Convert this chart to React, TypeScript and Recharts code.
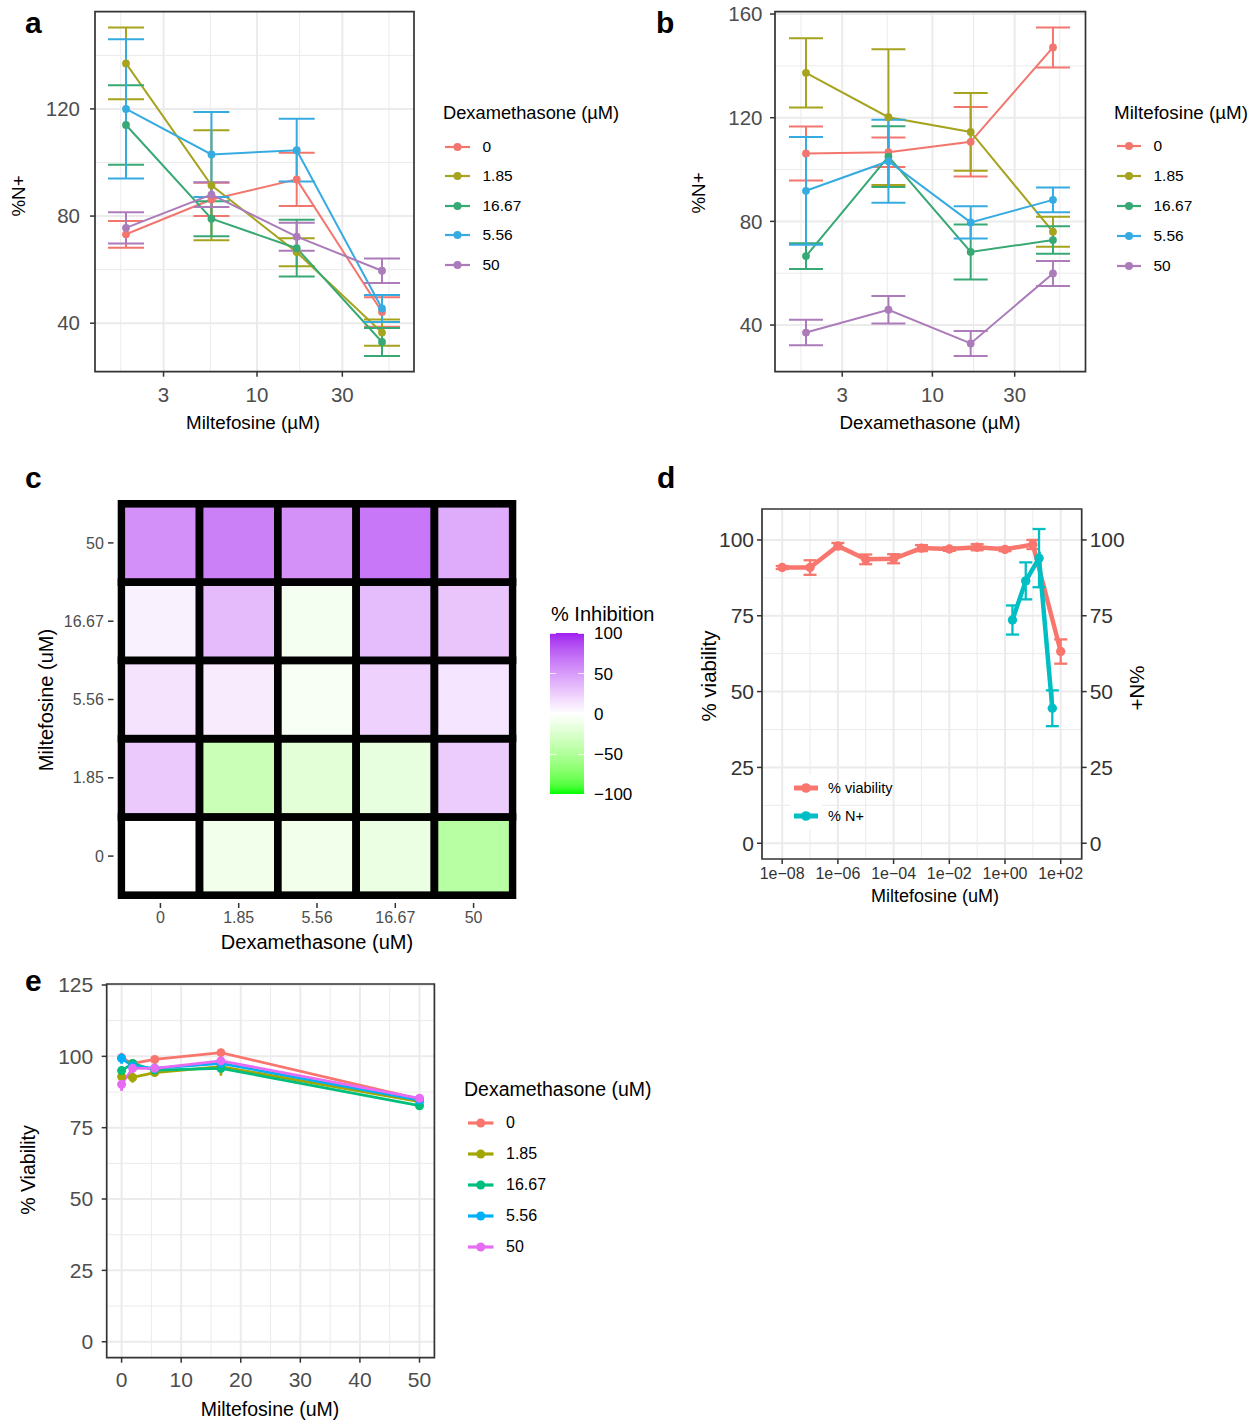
import React from 'react';
import {
  ComposedChart,
  ScatterChart,
  Scatter,
  Line,
  XAxis,
  YAxis,
  CartesianGrid,
  ErrorBar,
  ReferenceArea,
} from 'recharts';

const FONT = '"Liberation Sans", Arial, Helvetica, sans-serif';
const GRID = '#EBEBEB';
const FRAME = '#333333';
const AXIS_TEXT = '#4D4D4D';

// ---- shared levels ----
const doseLevels = [1.85, 5.56, 16.67, 50];
const legendLevels = ['0', '1.85', '16.67', '5.56', '50'];
const abColors = ['#F2766E', '#A6A31F', '#38A974', '#36ABE1', '#AB7BBA'];
const eColors = ['#F8766D', '#A3A500', '#00BF7D', '#00B0F6', '#E76BF3'];

// ---- panel a: %N+ vs miltefosine, by dexamethasone ----
const aDex0 = [73.2, 86.2, 93.7, 44.2];
const aDex0Sd = [5.0, 6.2, 9.9, 5.5];
const aDex1_85 = [137.0, 91.5, 66.5, 36.5];
const aDex1_85Sd = [13.4, 20.5, 5.2, 4.9];
const aDex16_67 = [114.0, 79.0, 68.0, 33.0];
const aDex16_67Sd = [14.8, 6.5, 10.6, 5.2];
const aDex5_56 = [120.0, 103.0, 104.6, 45.5];
const aDex5_56Sd = [26.0, 15.9, 11.7, 5.0];
const aDex50 = [75.6, 88.0, 72.3, 59.6];
const aDex50Sd = [5.8, 4.6, 5.2, 4.6];

// ---- panel b: %N+ vs dexamethasone, by miltefosine ----
const bMilt0 = [106.2, 106.7, 110.7, 147.1];
const bMilt0Sd = [10.4, 5.7, 13.4, 7.7];
const bMilt1_85 = [137.3, 120.2, 114.5, 76.0];
const bMilt1_85Sd = [13.4, 26.2, 15.0, 5.8];
const bMilt16_67 = [66.6, 105.0, 68.2, 72.8];
const bMilt16_67Sd = [5.0, 11.7, 10.6, 5.3];
const bMilt5_56 = [91.8, 103.2, 79.6, 88.3];
const bMilt5_56Sd = [20.8, 16.0, 6.2, 4.8];
const bMilt50 = [37.1, 45.9, 32.9, 59.9];
const bMilt50Sd = [4.9, 5.3, 4.8, 4.8];

// ---- panel c: % inhibition heatmap (rows = miltefosine, cols = dexamethasone) ----
const heatDexLabels = ['0', '1.85', '5.56', '16.67', '50'];
const heatMiltLabels = ['0', '1.85', '5.56', '16.67', '50'];
const inhibMilt0 = [0, -10, -10, -14, -46];
const inhibMilt1_85 = [27, -36, -20, -16, 26];
const inhibMilt5_56 = [14, 10, -5, 23, 13];
const inhibMilt16_67 = [7, 34, -7, 33, 29];
const inhibMilt50 = [55, 63, 54, 67, 42];
const colorbarTicks = [100, 50, 0, -50, -100];
const colorbarLabels = ['100', '50', '0', '\u221250', '\u2212100'];

// ---- panel d: viability and %N+ vs miltefosine ----
const dConc = [1e-8, 1e-7, 1e-6, 1e-5, 1e-4, 1e-3, 1e-2, 1e-1, 1, 10, 100];
const viability = [90.9, 90.9, 98.0, 93.6, 93.8, 97.3, 97.0, 97.6, 96.9, 98.5, 63.2];
const viabilitySd = [0.5, 2.4, 1.0, 1.6, 1.5, 1.0, 0.6, 1.0, 0.6, 1.5, 4.0];
const nConc = [1.85, 5.56, 16.67, 50];
const nPositive = [73.6, 86.5, 94.0, 44.5];
const nPositiveSd = [4.8, 6.1, 9.6, 5.9];
const dTicks = [1e-8, 1e-6, 1e-4, 1e-2, 1, 100];
const dTickLabels = ['1e\u221208', '1e\u221206', '1e\u221204', '1e\u221202', '1e+00', '1e+02'];
const dMinor = [1e-7, 1e-5, 1e-3, 1e-1, 10];

// ---- panel e: % viability vs miltefosine, by dexamethasone ----
const eMilt = [0, 1.85, 5.56, 16.67, 50];
const eDex0 = [99.5, 97.5, 98.9, 101.3, 85.0];
const eDex0Sd = [1.2, 0.8, 1.0, 1.2, 0.8];
const eDex1_85 = [92.9, 92.6, 94.3, 96.4, 84.1];
const eDex1_85Sd = [1.2, 1.8, 1.2, 3.2, 0.8];
const eDex16_67 = [95.0, 97.5, 95.2, 95.8, 82.7];
const eDex16_67Sd = [1.5, 1.0, 1.5, 1.5, 0.8];
const eDex5_56 = [99.3, 96.6, 95.8, 97.5, 84.7];
const eDex5_56Sd = [1.9, 1.0, 1.0, 1.0, 0.8];
const eDex50 = [90.2, 95.8, 95.8, 98.4, 85.3];
const eDex50Sd = [2.3, 1.5, 1.0, 1.0, 0.8];

type Pt = { x: number; y: number; sd: number };
interface Series { name: string; color: string; points: Pt[] }

const toPoints = (xs: number[], ys: number[], sd: number[]): Pt[] =>
  xs.map((x, i) => ({ x, y: ys[i], sd: sd[i] }));

const aSeries: Series[] = [
  { name: '0', color: abColors[0], points: toPoints(doseLevels, aDex0, aDex0Sd) },
  { name: '1.85', color: abColors[1], points: toPoints(doseLevels, aDex1_85, aDex1_85Sd) },
  { name: '16.67', color: abColors[2], points: toPoints(doseLevels, aDex16_67, aDex16_67Sd) },
  { name: '5.56', color: abColors[3], points: toPoints(doseLevels, aDex5_56, aDex5_56Sd) },
  { name: '50', color: abColors[4], points: toPoints(doseLevels, aDex50, aDex50Sd) },
];

const bSeries: Series[] = [
  { name: '0', color: abColors[0], points: toPoints(doseLevels, bMilt0, bMilt0Sd) },
  { name: '1.85', color: abColors[1], points: toPoints(doseLevels, bMilt1_85, bMilt1_85Sd) },
  { name: '16.67', color: abColors[2], points: toPoints(doseLevels, bMilt16_67, bMilt16_67Sd) },
  { name: '5.56', color: abColors[3], points: toPoints(doseLevels, bMilt5_56, bMilt5_56Sd) },
  { name: '50', color: abColors[4], points: toPoints(doseLevels, bMilt50, bMilt50Sd) },
];

const eSeries: Series[] = [
  { name: '0', color: eColors[0], points: toPoints(eMilt, eDex0, eDex0Sd) },
  { name: '1.85', color: eColors[1], points: toPoints(eMilt, eDex1_85, eDex1_85Sd) },
  { name: '16.67', color: eColors[2], points: toPoints(eMilt, eDex16_67, eDex16_67Sd) },
  { name: '5.56', color: eColors[3], points: toPoints(eMilt, eDex5_56, eDex5_56Sd) },
  { name: '50', color: eColors[4], points: toPoints(eMilt, eDex50, eDex50Sd) },
];

const heatRows = [inhibMilt0, inhibMilt1_85, inhibMilt5_56, inhibMilt16_67, inhibMilt50];
const heatCells = heatRows.flatMap((row, r) => row.map((v, c) => ({ x: c, y: r, v })));

// ---- colour scale (green - white - purple, interpolated in Lab like ggplot) ----
const toLin = (c: number) => {
  const v = c / 255;
  return v <= 0.04045 ? v / 12.92 : Math.pow((v + 0.055) / 1.055, 2.4);
};
const fromLin = (c: number) => {
  const v = c <= 0.0031308 ? 12.92 * c : 1.055 * Math.pow(c, 1 / 2.4) - 0.055;
  return Math.round(Math.min(1, Math.max(0, v)) * 255);
};
function hexToLab(hex: string): number[] {
  const r = toLin(parseInt(hex.slice(1, 3), 16));
  const g = toLin(parseInt(hex.slice(3, 5), 16));
  const b = toLin(parseInt(hex.slice(5, 7), 16));
  const X = (0.4124 * r + 0.3576 * g + 0.1805 * b) / 0.95047;
  const Y = 0.2126 * r + 0.7152 * g + 0.0722 * b;
  const Z = (0.0193 * r + 0.1192 * g + 0.9505 * b) / 1.08883;
  const f = (t: number) => (t > 0.008856 ? Math.cbrt(t) : 7.787 * t + 16 / 116);
  return [116 * f(Y) - 16, 500 * (f(X) - f(Y)), 200 * (f(Y) - f(Z))];
}
function labToHex(lab: number[]): string {
  const fy = (lab[0] + 16) / 116;
  const fx = fy + lab[1] / 500;
  const fz = fy - lab[2] / 200;
  const inv = (t: number) => (t * t * t > 0.008856 ? t * t * t : (t - 16 / 116) / 7.787);
  const X = inv(fx) * 0.95047;
  const Y = inv(fy);
  const Z = inv(fz) * 1.08883;
  const r = 3.2406 * X - 1.5372 * Y - 0.4986 * Z;
  const g = -0.9689 * X + 1.8758 * Y + 0.0415 * Z;
  const b = 0.0557 * X - 0.204 * Y + 1.057 * Z;
  return '#' + [r, g, b].map((c) => fromLin(c).toString(16).padStart(2, '0')).join('');
}
const LAB_LOW = hexToLab('#00FF00');
const LAB_MID = hexToLab('#FFFFFF');
const LAB_HIGH = hexToLab('#A020F0');
function inhibitionColor(v: number): string {
  const t = Math.max(-1, Math.min(1, v / 100));
  const end = t < 0 ? LAB_LOW : LAB_HIGH;
  const k = Math.abs(t);
  return labToHex(LAB_MID.map((m, i) => m + (end[i] - m) * k));
}

// ---- small helpers ----
function Caption({ x, y, children, size, color = '#000', weight = 400, rotate = 0, align = 'center' }: any) {
  const tx = align === 'center' ? '-50%' : align === 'left' ? '0' : '-100%';
  return (
    <div
      style={{
        position: 'absolute',
        left: x,
        top: y,
        transform: `translate(${tx}, -50%) rotate(${rotate}deg)`,
        fontSize: size,
        fontWeight: weight,
        color,
        lineHeight: 1,
        whiteSpace: 'nowrap',
        fontFamily: FONT,
      }}
    >
      {children}
    </div>
  );
}

function KeyLegend({ title, titleX, titleY, rowY, rowGap, keyX, keyW, labelX, lineW, dotR, titleSize, labelSize, items }: any) {
  return (
    <>
      <Caption x={titleX} y={titleY} size={titleSize} align="left">{title}</Caption>
      {items.map((it: { name: string; color: string }, i: number) => {
        const y = rowY + i * rowGap;
        return (
          <React.Fragment key={it.name}>
            <svg style={{ position: 'absolute', left: keyX, top: y - 10 }} width={keyW} height={20}>
              <line x1={0} x2={keyW} y1={10} y2={10} stroke={it.color} strokeWidth={lineW} />
              <circle cx={keyW / 2} cy={10} r={dotR} fill={it.color} />
            </svg>
            <Caption x={labelX} y={y} size={labelSize} align="left">{it.name}</Caption>
          </React.Fragment>
        );
      })}
    </>
  );
}

interface LinePanelProps {
  left: number; top: number; width: number; height: number;
  margin: { top: number; right: number; bottom: number; left: number };
  yWidth: number; xHeight: number; logX: boolean;
  xDomain: [number, number]; xTicks: number[]; xMinor: number[];
  yDomain: [number, number]; yTicks: number[]; yMinor: number[];
  series: Series[];
  lineWidth: number; dotR: number; capHalf: number; barWidth: number;
  tickFont: number; xTickMargin: number; yTickMargin: number;
}

function LinePanel(p: LinePanelProps) {
  const tick = { fill: AXIS_TEXT, fontSize: p.tickFont, fontFamily: FONT };
  return (
    <div style={{ position: 'absolute', left: p.left, top: p.top }}>
      <ComposedChart width={p.width} height={p.height} margin={p.margin}>
        <CartesianGrid stroke={GRID} strokeWidth={1} horizontalValues={p.yMinor} verticalValues={p.xMinor} />
        <CartesianGrid stroke={GRID} strokeWidth={2} horizontalValues={p.yTicks} verticalValues={p.xTicks} />
        <XAxis
          type="number"
          dataKey="x"
          scale={p.logX ? 'log' : 'linear'}
          domain={p.xDomain}
          allowDataOverflow
          ticks={p.xTicks}
          interval={0}
          height={p.xHeight}
          tickSize={5}
          tickMargin={p.xTickMargin}
          tick={tick}
          tickLine={{ stroke: FRAME, strokeWidth: 1.5 }}
          axisLine={false}
        />
        <YAxis
          type="number"
          domain={p.yDomain}
          allowDataOverflow
          ticks={p.yTicks}
          interval={0}
          width={p.yWidth}
          tickSize={5}
          tickMargin={p.yTickMargin}
          tick={tick}
          tickLine={{ stroke: FRAME, strokeWidth: 1.5 }}
          axisLine={false}
        />
        <ReferenceArea
          x1={p.xDomain[0]} x2={p.xDomain[1]} y1={p.yDomain[0]} y2={p.yDomain[1]}
          fill="none" stroke={FRAME} strokeWidth={1.7} ifOverflow="visible"
        />
        {p.series.map((s) => (
          <Line
            key={s.name}
            data={s.points}
            dataKey="y"
            type="linear"
            stroke={s.color}
            strokeWidth={p.lineWidth}
            dot={{ r: p.dotR, fill: s.color, stroke: s.color, strokeWidth: 0 }}
            activeDot={false}
            isAnimationActive={false}
          >
            <ErrorBar dataKey="sd" width={p.capHalf} stroke={s.color} strokeWidth={p.barWidth} direction="y" isAnimationActive={false} />
          </Line>
        ))}
      </ComposedChart>
    </div>
  );
}

// ---- heatmap ----
const HEAT_PLOT = 399;
const HEAT_DOMAIN: [number, number] = [-0.548, 4.548];
const TILE = HEAT_PLOT / (HEAT_DOMAIN[1] - HEAT_DOMAIN[0]);

const renderTile = (props: any) => {
  const { cx, cy, payload } = props;
  return (
    <rect
      x={cx - TILE / 2}
      y={cy - TILE / 2}
      width={TILE}
      height={TILE}
      fill={inhibitionColor(payload.v)}
      stroke="#000"
      strokeWidth={7.7}
    />
  );
};

function HeatPanel() {
  const tick = { fill: AXIS_TEXT, fontSize: 16, fontFamily: FONT };
  return (
    <div style={{ position: 'absolute', left: 0, top: 460 }}>
      <ScatterChart width={540} height={480} margin={{ top: 40, right: 23.5, left: 0, bottom: 0 }}>
        <XAxis
          type="number"
          dataKey="x"
          domain={HEAT_DOMAIN}
          allowDataOverflow
          ticks={[0, 1, 2, 3, 4]}
          interval={0}
          tickFormatter={(v: number) => heatDexLabels[v]}
          height={41}
          tickSize={9}
          tickMargin={3.7}
          tick={tick}
          tickLine={{ stroke: FRAME, strokeWidth: 1.5, strokeDasharray: '5 4' }}
          axisLine={false}
        />
        <YAxis
          type="number"
          dataKey="y"
          domain={HEAT_DOMAIN}
          allowDataOverflow
          ticks={[0, 1, 2, 3, 4]}
          interval={0}
          tickFormatter={(v: number) => heatMiltLabels[v]}
          width={117.5}
          tickSize={9.5}
          tickMargin={4.2}
          tick={tick}
          tickLine={{ stroke: FRAME, strokeWidth: 1.5, strokeDasharray: '5.5 4' }}
          axisLine={false}
        />
        <Scatter data={heatCells} shape={renderTile} isAnimationActive={false} />
      </ScatterChart>
    </div>
  );
}

function ColorBar() {
  const top = 633.3;
  const h = 161;
  const stops = Array.from({ length: 21 }, (_, i) => 100 - i * 10);
  const gradient = `linear-gradient(to bottom, ${stops.map((v, i) => `${inhibitionColor(v)} ${i * 5}%`).join(', ')})`;
  const yOf = (v: number) => top + ((100 - v) / 200) * h;
  return (
    <>
      <Caption x={551} y={614} size={20} align="left">% Inhibition</Caption>
      <div style={{ position: 'absolute', left: 550, top, width: 34, height: h, background: gradient }} />
      {colorbarTicks.map((v, i) => (
        <React.Fragment key={v}>
          <div style={{ position: 'absolute', left: 550, top: yOf(v) - 0.5, width: 6, height: 1, background: '#fff', opacity: 0.8 }} />
          <div style={{ position: 'absolute', left: 578, top: yOf(v) - 0.5, width: 6, height: 1, background: '#fff', opacity: 0.8 }} />
          <Caption x={594} y={yOf(v)} size={17} align="left">{colorbarLabels[i]}</Caption>
        </React.Fragment>
      ))}
    </>
  );
}

// ---- panel d ----
function ViabilityPanel() {
  const tick = { fill: FRAME, fontSize: 21, fontFamily: FONT };
  const xDomain: [number, number] = [Math.pow(10, -8.725), Math.pow(10, 2.754)];
  const yDomain: [number, number] = [-5.2, 110.2];
  const yTicks = [0, 25, 50, 75, 100];
  const yMinor = [12.5, 37.5, 62.5, 87.5];
  const viaPts = toPoints(dConc, viability, viabilitySd);
  const nPts = toPoints(nConc, nPositive, nPositiveSd);
  return (
    <div style={{ position: 'absolute', left: 660, top: 460 }}>
      <ComposedChart width={480} height={460} margin={{ top: 49, right: 0, left: 0, bottom: 21 }}>
        <CartesianGrid stroke={GRID} strokeWidth={1} horizontalValues={yMinor} verticalValues={dMinor} />
        <CartesianGrid stroke={GRID} strokeWidth={2} horizontalValues={yTicks} verticalValues={dTicks} />
        <XAxis
          type="number"
          dataKey="x"
          scale="log"
          domain={xDomain}
          allowDataOverflow
          ticks={dTicks}
          interval={0}
          tickFormatter={(v: number) => dTickLabels[dTicks.indexOf(v)]}
          height={40}
          tickSize={5}
          tickMargin={3.3}
          tick={{ fill: FRAME, fontSize: 16, fontFamily: FONT }}
          tickLine={{ stroke: FRAME, strokeWidth: 1.5 }}
          axisLine={false}
        />
        <YAxis
          type="number"
          domain={yDomain}
          allowDataOverflow
          ticks={yTicks}
          interval={0}
          width={102}
          tickSize={5}
          tickMargin={3}
          tick={tick}
          tickLine={{ stroke: FRAME, strokeWidth: 1.5 }}
          axisLine={false}
        />
        <YAxis
          yAxisId="right"
          orientation="right"
          type="number"
          domain={yDomain}
          allowDataOverflow
          ticks={yTicks}
          interval={0}
          width={58.3}
          tickSize={5}
          tickMargin={3}
          tick={tick}
          tickLine={{ stroke: FRAME, strokeWidth: 1.5 }}
          axisLine={false}
        />
        <ReferenceArea
          x1={xDomain[0]} x2={xDomain[1]} y1={yDomain[0]} y2={yDomain[1]}
          fill="none" stroke={FRAME} strokeWidth={1.7} ifOverflow="visible"
        />
        <Line
          data={viaPts}
          dataKey="y"
          type="linear"
          stroke="#F8766D"
          strokeWidth={4.5}
          dot={{ r: 4.7, fill: '#F8766D', stroke: '#F8766D', strokeWidth: 0 }}
          activeDot={false}
          isAnimationActive={false}
        >
          <ErrorBar dataKey="sd" width={6.5} stroke="#F8766D" strokeWidth={2.3} direction="y" isAnimationActive={false} />
        </Line>
        <Line
          yAxisId="right"
          data={nPts}
          dataKey="y"
          type="linear"
          stroke="#00BFC4"
          strokeWidth={4.5}
          dot={{ r: 4.7, fill: '#00BFC4', stroke: '#00BFC4', strokeWidth: 0 }}
          activeDot={false}
          isAnimationActive={false}
        >
          <ErrorBar dataKey="sd" width={6.5} stroke="#00BFC4" strokeWidth={2.3} direction="y" isAnimationActive={false} />
        </Line>
      </ComposedChart>
    </div>
  );
}

export default function App() {
  const legendItemsAB = legendLevels.map((name, i) => ({ name, color: abColors[i] }));
  const legendItemsE = legendLevels.map((name, i) => ({ name, color: eColors[i] }));
  return (
    <div
      style={{
        position: 'absolute',
        left: 0,
        top: 0,
        width: 1258,
        height: 1423,
        background: '#fff',
        overflow: 'hidden',
        fontFamily: FONT,
      }}
    >
      {/* a */}
      <LinePanel
        left={0} top={0} width={430} height={440}
        margin={{ top: 11.7, right: 16, left: 0, bottom: 28.3 }}
        yWidth={95} xHeight={40} logX
        xDomain={[1.241, 75.5]} xTicks={[3, 10, 30]} xMinor={[1.73, 5.48, 17.32, 54.77]}
        yDomain={[21.9, 156.3]} yTicks={[40, 80, 120]} yMinor={[60, 100, 140]}
        series={aSeries}
        lineWidth={2} dotR={3.9} capHalf={18} barWidth={2}
        tickFont={20.5} xTickMargin={11} yTickMargin={10}
      />
      <Caption x={25} y={22.6} size={30} weight={700} align="left">a</Caption>
      <Caption x={253} y={423} size={18.8}>Miltefosine (µM)</Caption>
      <Caption x={19} y={196} size={18.8} rotate={-90}>%N+</Caption>
      <KeyLegend
        title="Dexamethasone (µM)" titleX={443} titleY={113}
        rowY={146.5} rowGap={29.5} keyX={445} keyW={25} labelX={482.5}
        lineW={2.2} dotR={4} titleSize={18.3} labelSize={15.5} items={legendItemsAB}
      />

      {/* b */}
      <LinePanel
        left={640} top={0} width={460} height={440}
        margin={{ top: 11.7, right: 14.5, left: 0, bottom: 28.3 }}
        yWidth={135} xHeight={40} logX
        xDomain={[1.223, 77.2]} xTicks={[3, 10, 30]} xMinor={[1.73, 5.48, 17.32, 54.77]}
        yDomain={[22.0, 160.9]} yTicks={[40, 80, 120, 160]} yMinor={[60, 100, 140]}
        series={bSeries}
        lineWidth={2} dotR={3.9} capHalf={17} barWidth={2}
        tickFont={20.5} xTickMargin={11} yTickMargin={7.5}
      />
      <Caption x={656} y={22.6} size={30} weight={700} align="left">b</Caption>
      <Caption x={930} y={423} size={18.8}>Dexamethasone (µM)</Caption>
      <Caption x={699} y={193} size={18.8} rotate={-90}>%N+</Caption>
      <KeyLegend
        title="Miltefosine (µM)" titleX={1114} titleY={113.3}
        rowY={145.7} rowGap={30} keyX={1117} keyW={24} labelX={1153.5}
        lineW={2.2} dotR={4} titleSize={18.8} labelSize={15.5} items={legendItemsAB}
      />

      {/* c */}
      <HeatPanel />
      <Caption x={25} y={478} size={30} weight={700} align="left">c</Caption>
      <Caption x={317} y={942} size={20}>Dexamethasone (uM)</Caption>
      <Caption x={45.5} y={700} size={20} rotate={-90}>Miltefosine (uM)</Caption>
      <ColorBar />

      {/* d */}
      <ViabilityPanel />
      <Caption x={657} y={478} size={30} weight={700} align="left">d</Caption>
      <Caption x={935} y={896} size={18}>Miltefosine (uM)</Caption>
      <Caption x={709} y={676} size={20.5} rotate={-90}>% viability</Caption>
      <Caption x={1137} y={688} size={20.5} rotate={90}>%N+</Caption>
      <div style={{ position: 'absolute', left: 790, top: 774, width: 32, height: 56, background: '#fff' }} />
      <svg style={{ position: 'absolute', left: 794, top: 778 }} width={24} height={48}>
        <line x1={0} x2={24} y1={10} y2={10} stroke="#F8766D" strokeWidth={5} />
        <circle cx={12} cy={10} r={4.8} fill="#F8766D" />
        <line x1={0} x2={24} y1={38} y2={38} stroke="#00BFC4" strokeWidth={5} />
        <circle cx={12} cy={38} r={4.8} fill="#00BFC4" />
      </svg>
      <Caption x={828} y={788} size={14.5} align="left">% viability</Caption>
      <Caption x={828} y={816} size={14.5} align="left">% N+</Caption>

      {/* e */}
      <LinePanel
        left={0} top={960} width={450} height={463}
        margin={{ top: 24, right: 15.6, left: 0, bottom: 25.3 }}
        yWidth={106.7} xHeight={40} logX={false}
        xDomain={[-2.5, 52.5]} xTicks={[0, 10, 20, 30, 40, 50]} xMinor={[5, 15, 25, 35, 45]}
        yDomain={[-5.6, 125.35]} yTicks={[0, 25, 50, 75, 100, 125]} yMinor={[12.5, 37.5, 62.5, 87.5, 112.5]}
        series={eSeries}
        lineWidth={2.8} dotR={4.5} capHalf={0} barWidth={2.8}
        tickFont={21} xTickMargin={9} yTickMargin={8.5}
      />
      <Caption x={25} y={981.3} size={30} weight={700} align="left">e</Caption>
      <Caption x={270} y={1410} size={19.5}>Miltefosine (uM)</Caption>
      <Caption x={28.5} y={1170} size={19.5} rotate={-90}>% Viability</Caption>
      <KeyLegend
        title="Dexamethasone (uM)" titleX={464} titleY={1090}
        rowY={1123.3} rowGap={31} keyX={468} keyW={25.5} labelX={506}
        lineW={3.2} dotR={4.5} titleSize={19.5} labelSize={16} items={legendItemsE}
      />
    </div>
  );
}
